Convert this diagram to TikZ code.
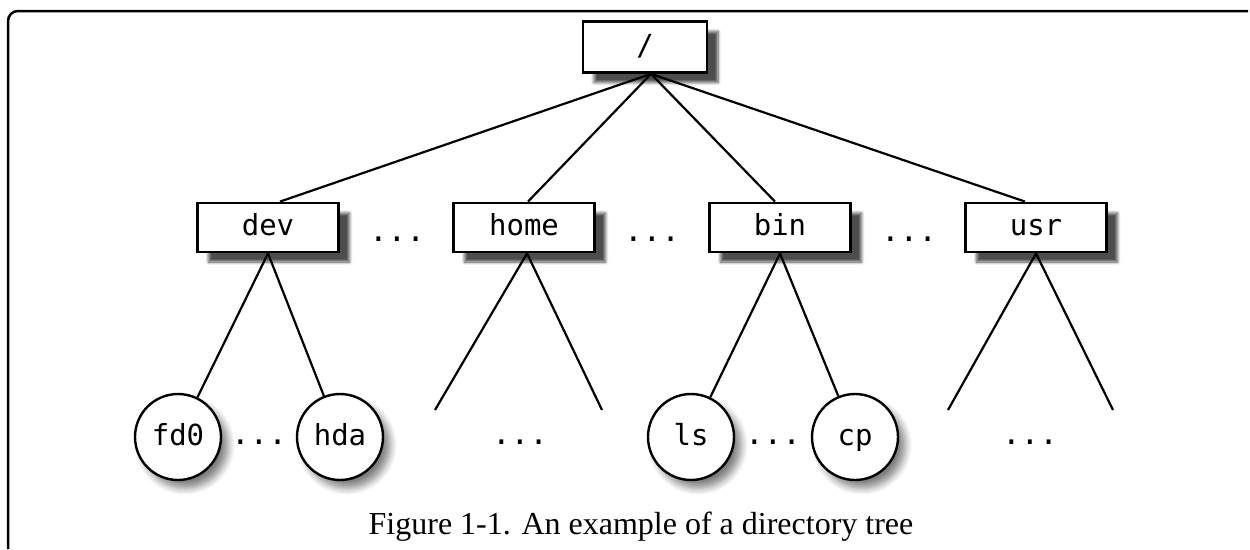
\documentclass[tikz,border=0pt]{standalone}
\usepackage{fontspec}
\setmainfont{Liberation Serif}
\newfontfamily\labfont{DejaVu Sans Mono}
\usetikzlibrary{calc,shadows.blur}
\begin{document}
\begin{tikzpicture}[x=1pt,y=-1pt,
  labtxt/.style={font=\labfont\fontsize{29}{32}\selectfont, text height=21pt, text depth=5pt},
  dirbox/.style={labtxt, draw, line width=2.8pt, fill=white, minimum width=141pt, minimum height=49pt, inner sep=0pt,
    blur shadow={shadow xshift=11pt, shadow yshift=-10pt, shadow blur steps=6, shadow blur radius=3pt, shadow opacity=70}},
  filecirc/.style={labtxt, draw, circle, line width=2.4pt, fill=white, minimum size=86pt, inner sep=0pt,
    blur shadow={shadow xshift=7pt, shadow yshift=-8pt, shadow blur steps=8, shadow blur radius=7pt, shadow opacity=50}},
  dotstxt/.style={font=\labfont\fontsize{31}{32}\selectfont, anchor=base, inner sep=0pt},
  edge/.style={line width=2.2pt}
]
\useasboundingbox (0,0) rectangle (1250,549);
\draw[line width=2.5pt, rounded corners=10pt] (8,549) -- (8,11) -- (1248,11);

% root and level 2
\node[dirbox, minimum width=124pt, minimum height=51pt] (root) at (645,47) {/};
\node[dirbox] (dev)  at (268,227.5) {dev};
\node[dirbox] (home) at (524,227.5) {home};
\node[dirbox] (bin)  at (780,227.5) {bin};
\node[dirbox] (usr)  at (1036,227.5) {usr};

\node[dotstxt] (d1) at (397,241) {...};
\node[dotstxt] (d2) at (652,241) {...};
\node[dotstxt] (d3) at (909,241) {...};

% level 3
\node[filecirc] (fd0) at (178,437) {fd0};
\node[filecirc] (hda) at (340,437) {hda};
\node[filecirc] (ls)  at (691,437) {ls};
\node[filecirc] (cp)  at (855,437) {cp};

\coordinate (hl) at (435,410);
\coordinate (hr) at (602,410);
\coordinate (ul) at (948,410);
\coordinate (ur) at (1113,410);

\node[dotstxt] (d4) at (259,444) {...};
\node[dotstxt] (d5) at (520,444) {...};
\node[dotstxt] (d6) at (773,444) {...};
\node[dotstxt] (d7) at (1030,444) {...};

% connectors
\draw[edge] ($(root.south)+(6,0)$) -- ($(dev.north)+(12,0)$);
\draw[edge] ($(root.south)+(6,0)$) -- ($(home.north)+(4,0)$);
\draw[edge] ($(root.south)+(6,0)$) -- ($(bin.north)+(-5,0)$);
\draw[edge] ($(root.south)+(6,0)$) -- ($(usr.north)+(-11,0)$);

\draw[edge] (dev.south) -- (fd0);
\draw[edge] (dev.south) -- (hda);
\draw[edge] ($(home.south)+(3,0)$) -- (hl);
\draw[edge] ($(home.south)+(3,0)$) -- (hr);
\draw[edge] (bin.south) -- (ls);
\draw[edge] (bin.south) -- (cp);
\draw[edge] (usr.south) -- (ul);
\draw[edge] (usr.south) -- (ur);

\node[font=\fontsize{32}{36}\selectfont, anchor=base, inner sep=0pt] (cap) at (641,534) {Figure 1-1. An example of a directory tree};
\end{tikzpicture}
\end{document}
